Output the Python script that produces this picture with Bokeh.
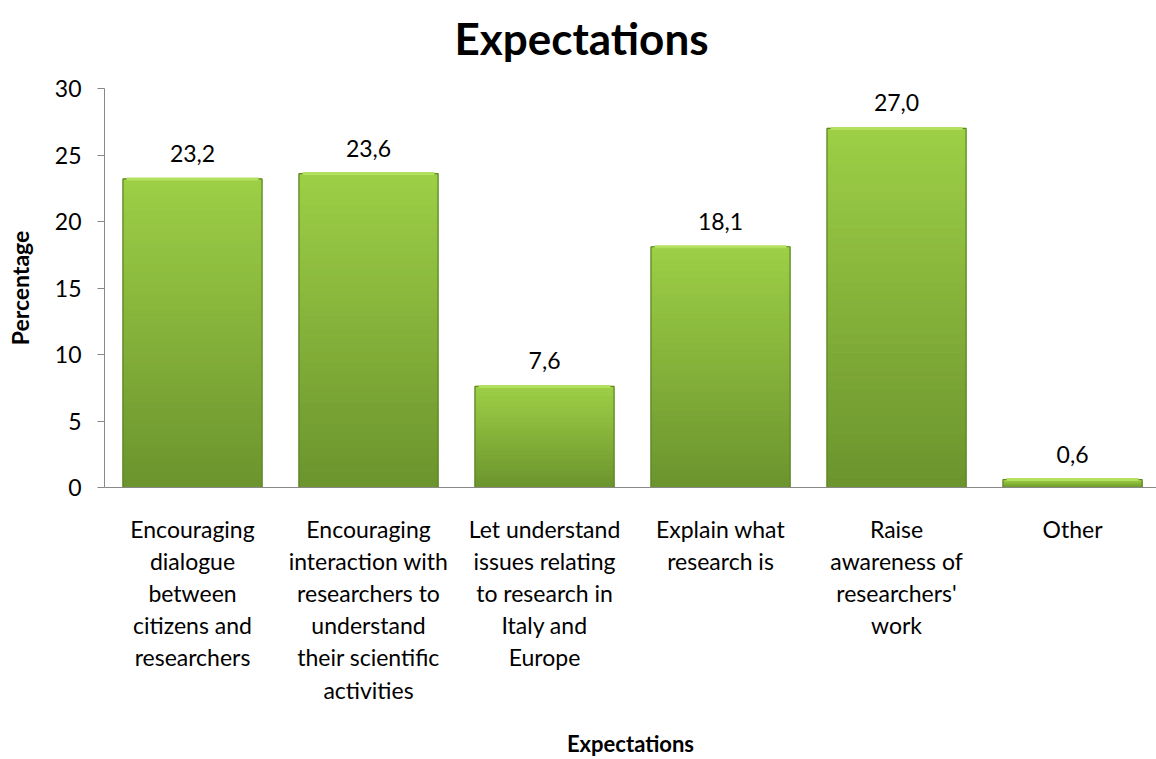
from bokeh.plotting import figure
from bokeh.layouts import column
from bokeh.models import Range1d, FixedTicker, ColumnDataSource
from bokeh.core.properties import value
from bokeh.embed import file_html
from bokeh.resources import INLINE

title_text = "Expectations"
categories = [
    "Encouraging\ndialogue\nbetween\ncitizens and\nresearchers",
    "Encouraging\ninteraction with\nresearchers to\nunderstand\ntheir scientific\nactivities",
    "Let understand\nissues relating\nto research in\nItaly and\nEurope",
    "Explain what\nresearch is",
    "Raise\nawareness of\nresearchers'\nwork",
    "Other",
]
percentages = [23.2, 23.6, 7.6, 18.1, 27.0, 0.6]
y_ticks = [0, 5, 10, 15, 20, 25, 30]

FONT = "Lato"
xs = list(range(len(categories)))
bar_w = 0.79
LEFT = 104          # width of the left panel (y axis area)
W, H = 1156, 759
TH = 73             # height of the title strip

# ---- title strip (a small figure holding only the title text) ----
# its frame is aligned with the main frame, so its x range maps to page pixels
tfig = figure(width=W, height=TH, output_backend="svg", toolbar_location=None,
              title=None, x_axis_location=None, y_axis_location=None,
              x_range=Range1d(LEFT, W), y_range=Range1d(0, TH),
              min_border_left=LEFT, min_border_right=0, min_border_top=0, min_border_bottom=0)
tfig.grid.visible = False
tfig.outline_line_color = None
tfig.text(x=[W / 2 + 3], y=[TH - 37], text=[title_text], text_align="center",
          text_baseline="alphabetic", text_font=value(FONT), text_font_size="44px",
          text_font_style="bold", text_color="#000000")

# ---- main chart ----
p = figure(width=W, height=H - TH, output_backend="svg", toolbar_location=None,
           x_range=Range1d(-0.5, 5.477), y_range=Range1d(0, 30),
           min_border_left=LEFT, min_border_right=0, min_border_top=15, min_border_bottom=0)

def lerp(c1, c2, t):
    a = [int(c1[i:i + 2], 16) for i in (1, 3, 5)]
    b = [int(c2[i:i + 2], 16) for i in (1, 3, 5)]
    return "#%02x%02x%02x" % tuple(round(a[k] + (b[k] - a[k]) * t) for k in range(3))

# gradient bars built from slices of each value
top_col, bot_col = "#9dcf46", "#6b942d"
N = 40
L, R, B, T, C = [], [], [], [], []
for x, v in zip(xs, percentages):
    for k in range(N):
        L.append(x - bar_w / 2)
        R.append(x + bar_w / 2)
        B.append(v * k / N)
        T.append(v * (k + 1) / N)
        C.append(lerp(bot_col, top_col, (k + 0.5) / N))
p.quad(left=L, right=R, bottom=B, top=T, fill_color=C, line_color=C, line_width=1)
p.vbar(x=xs, top=percentages, width=bar_w, bottom=0, fill_color=None,
       line_color="#5f8528", line_width=1.2)
p.segment(x0=[x - bar_w / 2 + 0.02 for x in xs], x1=[x + bar_w / 2 - 0.02 for x in xs],
          y0=percentages, y1=percentages, line_color="#b4e060", line_width=3)

labels = ColumnDataSource(dict(x=xs, y=percentages,
                               t=[f"{v:.1f}".replace(".", ",") for v in percentages]))
p.text(x="x", y="y", text="t", source=labels, text_align="center", text_baseline="bottom",
       y_offset=-17, text_font=value(FONT), text_font_size="23px", text_color="#000000")

p.xgrid.visible = False
p.ygrid.visible = False
p.outline_line_color = None

p.yaxis.ticker = FixedTicker(ticks=y_ticks)
p.yaxis.axis_label = "Percentage"
p.yaxis.axis_label_text_font = FONT
p.yaxis.axis_label_text_font_size = "23px"
p.yaxis.axis_label_text_font_style = "bold"
p.yaxis.axis_label_text_color = "#000000"
p.yaxis.axis_label_standoff = 18
p.yaxis.major_label_text_font = FONT
p.yaxis.major_label_text_font_size = "23px"
p.yaxis.major_label_text_color = "#000000"
p.yaxis.major_label_standoff = 16
p.yaxis.major_tick_out = 7
p.yaxis.major_tick_in = 0
p.yaxis.minor_tick_out = 0
p.yaxis.minor_tick_in = 0
p.yaxis.axis_line_color = "#888888"
p.yaxis.major_tick_line_color = "#888888"

p.xaxis.ticker = FixedTicker(ticks=xs)
p.xaxis.major_label_overrides = {i: c for i, c in zip(xs, categories)}
p.xaxis.major_label_text_font = FONT
p.xaxis.major_label_text_font_size = "23px"
p.xaxis.major_label_text_color = "#000000"
p.xaxis.major_label_text_line_height = 1.15
p.xaxis.major_label_standoff = 27
p.xaxis.major_tick_out = 0
p.xaxis.major_tick_in = 0
p.xaxis.minor_tick_out = 0
p.xaxis.minor_tick_in = 0
p.xaxis.axis_line_color = "#888888"
p.xaxis.axis_label = "Expectations"
p.xaxis.axis_label_text_font = FONT
p.xaxis.axis_label_text_font_size = "22px"
p.xaxis.axis_label_text_font_style = "bold"
p.xaxis.axis_label_text_color = "#000000"
p.xaxis.axis_label_standoff = 23

layout = column(tfig, p, spacing=0)
open("out.html", "w").write(file_html(layout, INLINE))
